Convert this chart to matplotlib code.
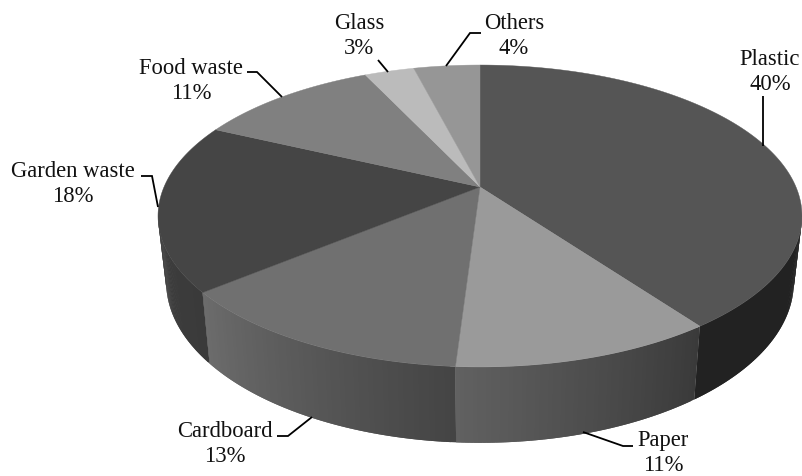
import numpy as np
import matplotlib
matplotlib.use("Agg")
import matplotlib.pyplot as plt
from matplotlib.colors import to_rgb

categories = ["Plastic", "Paper", "Cardboard", "Garden waste", "Food waste", "Glass", "Others"]
values = [40, 11, 13, 18, 11, 3, 4]
top_colors = ["#555555", "#9a9a9a", "#707070", "#454545", "#808080", "#bbbbbb", "#969696"]
side_left = ["#222222", "#616161", "#6c6c6c", "#3e3e3e", "#808080", "#bbbbbb", "#969696"]
side_right = ["#222222", "#3a3a3a", "#444444", "#3a3a3a", "#808080", "#bbbbbb", "#969696"]

label_pos = [(770, 72), (663, 453), (225, 444), (73, 184), (191, 81), (359, 36), (514, 36)]
leaders = [
    [(763, 97), (763, 147)],
    [(583, 433), (623, 447), (633, 447)],
    [(312, 418), (288, 437), (277, 437)],
    [(141, 177), (152, 177), (158, 208)],
    [(247, 73), (257, 73), (282, 98)],
    [(378, 61), (388, 73)],
    [(481, 34), (470, 34), (446, 67)],
]

K = 0.192
CX = 480.0
TOP = dict(b=316.0, a=145.4, y0=188.0)
BOT = dict(b=308.0, a=155.0, y0=252.0)


def project(theta, plane, r=1.0):
    """theta is clockwise from the back of the pie, in radians."""
    X, Y = r * np.sin(theta), r * np.cos(theta)
    w = 1 + K * Y
    return CX + plane["b"] * X / w, plane["y0"] - plane["a"] * Y / w


fig = plt.figure(figsize=(8.03, 4.77), dpi=100)
ax = fig.add_axes([0, 0, 1, 1])
ax.set_xlim(0, 803)
ax.set_ylim(477, 0)
ax.axis("off")

edges = np.cumsum([0] + values) / np.sum(values) * 2 * np.pi
tan_a = np.pi - np.arcsin(np.sqrt(1 - K * K))   # right-hand tangent of the rim
tan_b = 2 * np.pi - tan_a                       # left-hand tangent of the rim

# side wall: each strip reaches past its own span, the next one paints over it
for i in range(len(values)):
    lo, hi = max(edges[i], tan_a), min(edges[i + 1], tan_b)
    if hi <= lo:
        continue
    n = 60
    ts = np.linspace(lo, hi, n + 1)
    c_l, c_r = np.array(to_rgb(side_left[i])), np.array(to_rgb(side_right[i]))
    for j in range(n):
        f = 1 - (j + 0.5) / n
        span = ts[j:min(j + 3, n + 1)]
        xt, yt = project(span, TOP)
        xb, yb = project(span[::-1], BOT)
        col = c_l + (c_r - c_l) * f
        ax.fill(np.r_[xt, xb], np.r_[yt, yb], color=col, lw=0, zorder=2)

# top face
for i in range(len(values)):
    ts = np.linspace(edges[i], edges[i + 1], 200)
    x, y = project(ts, TOP)
    ax.fill(np.r_[CX, x], np.r_[TOP["y0"], y], color=top_colors[i], lw=0.3, zorder=3)

# labels and leaders
total = sum(values)
for name, v, (lx, ly), pts in zip(categories, values, label_pos, leaders):
    ax.text(lx, ly, f"{name}\n{round(100 * v / total)}%", ha="center", va="center",
            fontsize=16.3, family="Liberation Serif", color="#111111", linespacing=1.3, zorder=6)
    px, py = zip(*pts)
    ax.plot(px, py, color="black", lw=1.3, solid_capstyle="butt", solid_joinstyle="miter", zorder=5)

fig.savefig("out.png", dpi=100, facecolor="white")
